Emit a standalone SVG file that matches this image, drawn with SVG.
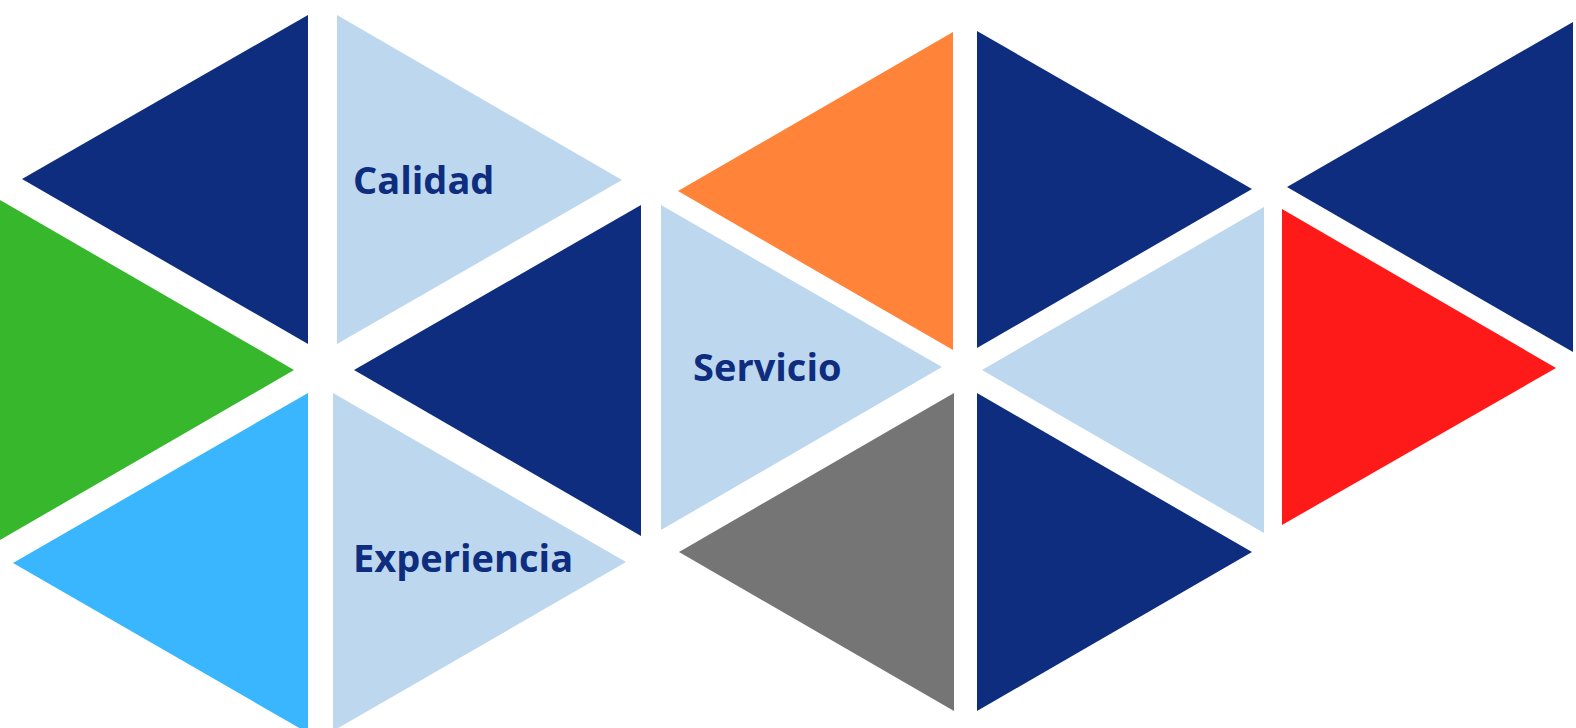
<svg xmlns="http://www.w3.org/2000/svg" width="1576" height="728" viewBox="0 0 1576 728">
<style>
.navy{fill:#0F2D7E}
.light{fill:#BDD7EE}
.lbl{font-family:"Open Sans","Noto Sans","Liberation Sans",sans-serif;font-weight:700;font-size:38px;fill:#0F2D7E}
</style>
<rect width="1576" height="728" fill="#FFFFFF"/>
<g id="t-navy-1"><polygon class="navy" points="308,15 22,179 308,344"/></g>
<g id="t-calidad"><polygon class="light" points="337,15 622,180 337,344"/><text class="lbl" x="353" y="194">Calidad</text></g>
<g id="t-green"><polygon fill="#37B72B" points="0,200 294,370 0,540"/></g>
<g id="t-navy-2"><polygon class="navy" points="641,205 354,370 641,536"/></g>
<g id="t-cyan"><polygon fill="#3AB6FF" points="308,393 13,563 308,733"/></g>
<g id="t-experiencia"><polygon class="light" points="333,393 626,562 333,731"/><text class="lbl" x="353" y="572">Experiencia</text></g>
<g id="t-orange"><polygon fill="#FF8439" points="953,32 678,191 953,350"/></g>
<g id="t-servicio"><polygon class="light" points="661,205 942,367 661,530"/><text class="lbl" x="693" y="381">Servicio</text></g>
<g id="t-gray"><polygon fill="#757575" points="954,393 679,552 954,711"/></g>
<g id="t-navy-3"><polygon class="navy" points="977,31 1252,189 977,348"/></g>
<g id="t-light-right"><polygon class="light" points="1264,207 982,370 1264,533"/></g>
<g id="t-navy-4"><polygon class="navy" points="977,393 1252,552 977,711"/></g>
<g id="t-navy-5"><polygon class="navy" points="1573,22 1287,187 1573,352"/></g>
<g id="t-red"><polygon fill="#FF1A1A" points="1282,209 1556,368 1282,525"/></g>
<g id="connectors"></g>
</svg>
